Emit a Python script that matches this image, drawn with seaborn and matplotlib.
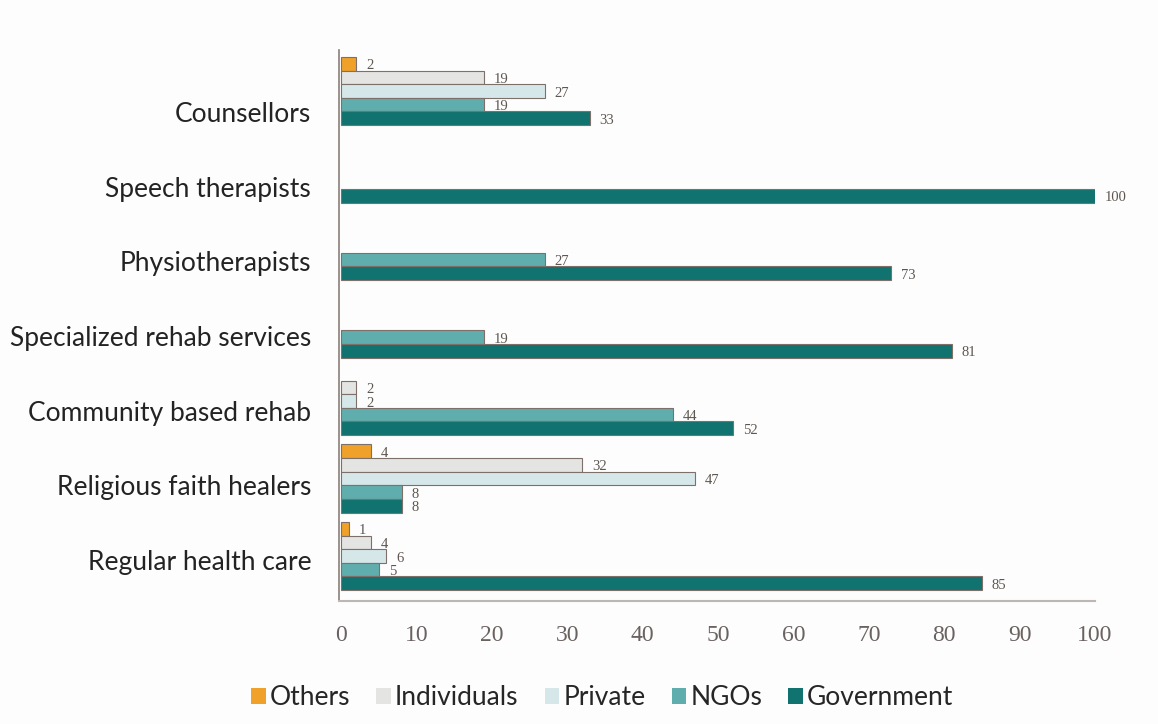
import numpy as np
import pandas as pd
import matplotlib
matplotlib.use("Agg")
import matplotlib.pyplot as plt
from matplotlib.patches import Patch
import seaborn as sns

# Rehabilitation / health services by provider type (percent)
categories = [
    "Counsellors",
    "Speech therapists",
    "Physiotherapists",
    "Specialized rehab services",
    "Community based rehab",
    "Religious faith healers",
    "Regular health care",
]
series_names = ["Others", "Individuals", "Private", "NGOs", "Government"]
others = [2, 0, 0, 0, 0, 4, 1]
individuals = [19, 0, 0, 0, 2, 32, 4]
private = [27, 0, 0, 0, 2, 47, 6]
ngos = [19, 0, 27, 19, 44, 8, 5]
government = [33, 100, 73, 81, 52, 8, 85]
x_ticks = [0, 10, 20, 30, 40, 50, 60, 70, 80, 90, 100]

colors = ["#EFA12A", "#E4E4E2", "#D6E7EA", "#5FAEAD", "#11736F"]

values_by_series = [others, individuals, private, ngos, government]
df = pd.DataFrame({
    "category": np.tile(categories, len(series_names)),
    "series": np.repeat(series_names, len(categories)),
    "value": np.concatenate(values_by_series),
})

sns.set_theme(style="white")
plt.rcParams["font.family"] = ["Lato", "DejaVu Sans"]

fig = plt.figure(figsize=(11.58, 7.24), dpi=100, facecolor="#FDFDFD")
ax = fig.add_axes([0.2927, 0.170, 0.9456 - 0.2927, 0.931 - 0.170])
ax.set_facecolor("#FDFDFD")

sns.barplot(
    data=df, y="category", x="value", hue="series",
    order=categories, hue_order=series_names, palette=colors,
    orient="h", width=0.88, ax=ax, legend=False,
    edgecolor="#7D706A", linewidth=0.8, saturation=1,
)

# hide outlines of empty bars
for patch in ax.patches:
    if patch.get_width() == 0:
        patch.set_edgecolor("none")

# value labels just right of each bar end, sitting a little low
for container, vals in zip(ax.containers, values_by_series):
    for bar, v in zip(container.patches, vals):
        if v <= 0:
            continue
        ax.annotate(str(v), xy=(bar.get_x() + bar.get_width(),
                                bar.get_y() + bar.get_height() / 2),
                    xytext=(7, -1.5), textcoords="offset points",
                    ha="left", va="center", fontsize=10.5,
                    color="#5E5650", family="Liberation Serif")

ax.set_xlim(-0.3, 100)
ax.set_ylim(6.58, -0.53)
ax.set_xticks(x_ticks)
ax.set_xticklabels([str(t) for t in x_ticks], family="Liberation Serif",
                   fontsize=17, color="#6A6260")
ax.set_yticks(0.27 + np.arange(len(categories)) * 0.964)
ax.set_yticklabels(categories, fontsize=19, color="#232323")
ax.tick_params(axis="x", length=0, pad=17)
ax.tick_params(axis="y", length=0, pad=20)
ax.set_xlabel("")
ax.set_ylabel("")

for side in ["top", "right"]:
    ax.spines[side].set_visible(False)
ax.spines["left"].set_color("#8C7F7A")
ax.spines["left"].set_linewidth(1.2)
ax.spines["bottom"].set_color("#BDB6B3")
ax.spines["bottom"].set_linewidth(1.5)

handles = [Patch(facecolor=c, edgecolor="none") for c in colors]
fig.legend(handles, series_names, loc="center", bbox_to_anchor=(0.52, 0.036),
           ncol=5, frameon=False, fontsize=19, handlelength=0.55,
           handleheight=0.55, handletextpad=0.15, columnspacing=1.0,
           borderpad=0.2)

fig.savefig("out.png", dpi=100, facecolor=fig.get_facecolor())
